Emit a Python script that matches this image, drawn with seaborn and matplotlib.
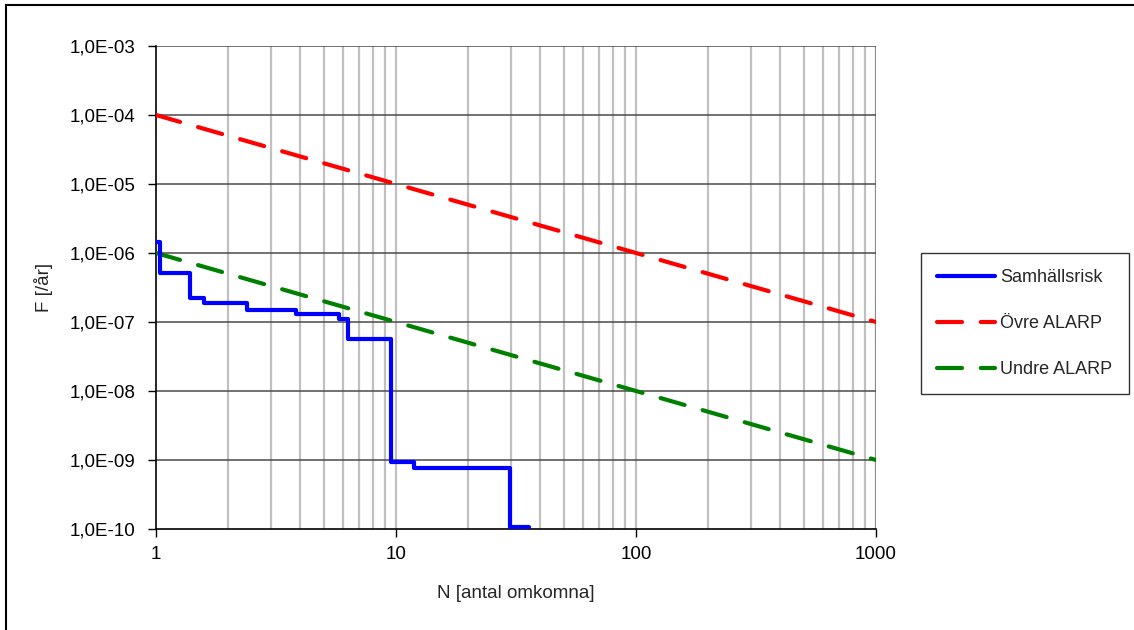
import numpy as np
import pandas as pd
import matplotlib
matplotlib.use('Agg')
import matplotlib.pyplot as plt
import seaborn as sns
from matplotlib.patches import Rectangle
from matplotlib.ticker import FixedLocator, FuncFormatter

# FN-curve data
n_risk = [1.0, 1.04, 1.39, 1.58, 2.39, 3.82, 5.79, 6.33, 9.5, 11.9, 29.9, 35.8]
f_risk = [1.43e-6, 5.1e-7, 2.2e-7, 1.86e-7, 1.49e-7, 1.29e-7, 1.10e-7, 5.7e-8,
          9.4e-10, 7.7e-10, 1.07e-10, 1.07e-10]
n_alarp = [1, 10, 100, 1000]
f_upper = [1e-4, 1e-5, 1e-6, 1e-7]
f_lower = [1e-6, 1e-7, 1e-8, 1e-9]

sns.set_style('white')
plt.rcParams['font.family'] = ['Liberation Sans', 'DejaVu Sans']
fs = 13.5

fig = plt.figure(figsize=(11.34, 6.3), dpi=100)
ax = fig.add_axes([156/1134, 1 - 529/630, 720/1134, 483/630])

risk_df = pd.DataFrame({'N': n_risk, 'F': f_risk})
alarp_df = pd.DataFrame({'N': n_alarp, 'upper': f_upper, 'lower': f_lower})

sns.lineplot(data=risk_df, x='N', y='F', ax=ax, color='#0000ff', linewidth=3,
             drawstyle='steps-post', estimator=None, sort=False, label='Samhällsrisk', zorder=5)
sns.lineplot(data=alarp_df, x='N', y='upper', ax=ax, color='#ff0000', linewidth=3,
             estimator=None, label='Övre ALARP', zorder=4)
sns.lineplot(data=alarp_df, x='N', y='lower', ax=ax, color='#008000', linewidth=3,
             estimator=None, label='Undre ALARP', zorder=4)
for ln in ax.get_lines()[1:]:
    ln.set_dashes([6, 4.5])
    ln.set_dash_capstyle('round')

ax.set_xscale('log')
ax.set_yscale('log')
ax.set_xlim(1, 1000)
ax.set_ylim(1e-10, 1e-3)

# grid: vertical light gray (major+minor), horizontal darker gray
for d in range(0, 3):
    for k in range(1, 10):
        v = k * 10**d
        if v > 1:
            ax.axvline(v, color='#c0c0c0', linewidth=1.6, zorder=1)
ax.axvline(1000, color='#8c8c8c', linewidth=1.6, zorder=1)
for e in range(-9, -2):
    ax.axhline(10.0**e, color='#4a4a4a', linewidth=1.1, zorder=1)

ax.xaxis.set_major_locator(FixedLocator([1, 10, 100, 1000]))
ax.xaxis.set_minor_locator(FixedLocator([]))
ax.yaxis.set_major_locator(FixedLocator([10.0**e for e in range(-10, -2)]))
ax.yaxis.set_minor_locator(FixedLocator([]))
ax.xaxis.set_major_formatter(FuncFormatter(lambda v, p: '%d' % round(v)))
ax.yaxis.set_major_formatter(FuncFormatter(lambda v, p: '1,0E-%02d' % round(-np.log10(v))))
ax.tick_params(axis='both', which='major', direction='out', length=6, width=1,
               colors='black', labelsize=fs, bottom=True, left=True)
ax.tick_params(axis='x', pad=6)
ax.tick_params(axis='y', pad=9)

for s in ['top', 'right']:
    ax.spines[s].set_visible(False)
for s in ['left', 'bottom']:
    ax.spines[s].set_color('black')
    ax.spines[s].set_linewidth(1.2)

ax.set_xlabel('N [antal omkomna]', fontsize=fs, labelpad=16)
ax.set_ylabel('F [/år]', fontsize=fs, labelpad=12)

leg = ax.legend(loc='upper left', bbox_to_anchor=(921/1134, 1 - 253/630), bbox_transform=fig.transFigure,
                borderaxespad=0, frameon=True, fancybox=False, edgecolor='black', fontsize=13,
                handlelength=3.2, labelspacing=1.6, borderpad=0.9, handletextpad=0.3)
leg.get_frame().set_linewidth(1.0)

fig.add_artist(Rectangle((6/1134, -0.05), 1.2, 1 - 5/630 + 0.05, transform=fig.transFigure,
                         fill=False, edgecolor='black', linewidth=1.5))

fig.savefig('out.png', dpi=100, facecolor='white')
